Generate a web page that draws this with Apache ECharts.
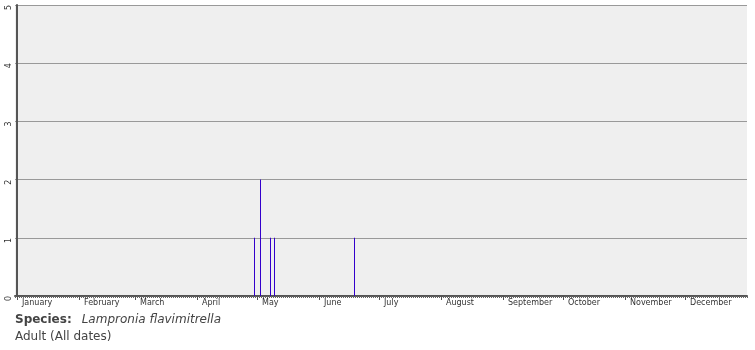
<!DOCTYPE html>
<html>
<head>
<meta charset="utf-8">
<script src="https://cdn.jsdelivr.net/npm/echarts@6/dist/echarts.min.js"></script>
<style>
  html, body { margin: 0; padding: 0; background: #fff; }
  #chart { width: 755px; height: 350px; }
</style>
</head>
<body>
<div id="chart"></div>
<script>
// month names and first day (0-based day of year) of each month
var months = ['January', 'February', 'March', 'April', 'May', 'June',
  'July', 'August', 'September', 'October', 'November', 'December'];
var monthStarts = [0, 31, 59, 90, 120, 151, 181, 212, 243, 273, 304, 334];

// records: day of year (1-based) and number of adults
var obsDays = [119, 122, 127, 129, 169];
var counts = [1, 2, 1, 1, 1];

var yTicks = [0, 1, 2, 3, 4, 5];

// shift by a quarter day so the 1px bars land on whole pixels
var barData = obsDays.map(function (d, i) { return [d - 0.25, counts[i]]; });

var myChart = echarts.init(document.getElementById('chart'));
var labelFont = { fontFamily: 'DejaVu Sans', fontSize: 8, color: '#333' };

var option = {
  animation: false,
  backgroundColor: '#fff',
  title: {
    left: 10,
    top: 306,
    text: '{b|Species:}  {i|Lampronia flavimitrella}\n{n|Adult (All dates)}',
    textStyle: {
      fontWeight: 'normal',
      rich: {
        b: { fontFamily: 'DejaVu Sans', fontWeight: 'bold', fontSize: 12, color: '#444', lineHeight: 16 },
        i: { fontFamily: 'DejaVu Sans', fontStyle: 'italic', fontWeight: 'normal', fontSize: 12, color: '#444', lineHeight: 16 },
        n: { fontFamily: 'DejaVu Sans', fontWeight: 'normal', fontSize: 12, color: '#444', lineHeight: 16 }
      }
    }
  },
  grid: {
    left: 15,
    right: 8,
    top: 5,
    bottom: 54,
    show: true,
    backgroundColor: '#efefef',
    borderWidth: 0
  },
  xAxis: [
    {
      type: 'value',
      min: -1,
      max: 365,
      interval: 1,
      axisLine: { show: true, lineStyle: { color: '#555', width: 2 } },
      axisTick: { show: true, length: 2, lineStyle: { color: '#666', width: 1 } },
      axisLabel: { show: false },
      splitLine: { show: false }
    },
    {
      type: 'value',
      position: 'bottom',
      min: -1,
      max: 365,
      interval: 1,
      axisLine: { show: false },
      axisTick: { show: true, length: 4, customValues: monthStarts, lineStyle: { color: '#555', width: 1 } },
      axisLabel: Object.assign({
        show: true,
        customValues: monthStarts,
        align: 'left',
        margin: 3,
        padding: [0, 0, 0, 5],
        formatter: function (v) { return months[monthStarts.indexOf(v)] || ''; }
      }, labelFont),
      splitLine: { show: false }
    }
  ],
  yAxis: {
    type: 'value',
    min: yTicks[0],
    max: yTicks[yTicks.length - 1],
    interval: 1,
    axisLine: { show: true, lineStyle: { color: '#555', width: 2 } },
    axisTick: { show: false },
    axisLabel: Object.assign({ rotate: 90, margin: 6, align: 'right', verticalAlign: 'middle' }, labelFont),
    splitLine: { show: true, lineStyle: { color: '#999', width: 1 } }
  },
  series: [
    {
      type: 'bar',
      xAxisIndex: 0,
      barWidth: 1,
      data: barData,
      itemStyle: { color: '#3300cc' }
    }
  ]
};
myChart.setOption(option);
</script>
</body>
</html>
